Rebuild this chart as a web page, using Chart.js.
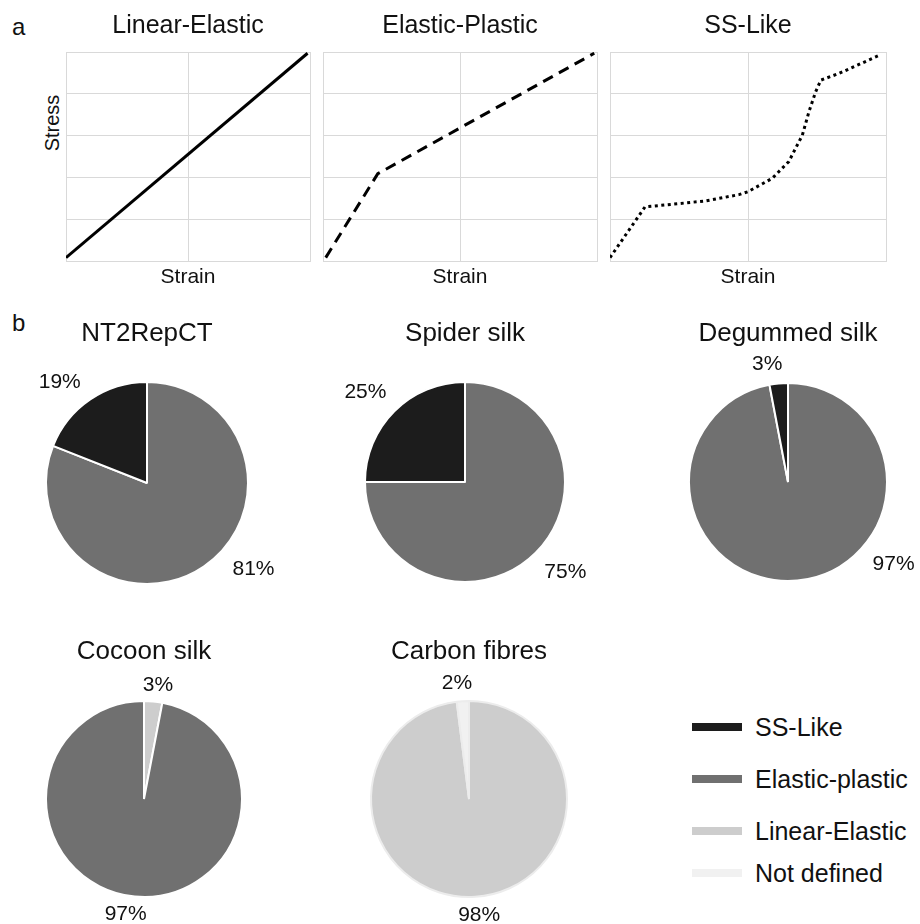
<!DOCTYPE html>
<html>
<head>
<meta charset="utf-8">
<script src="https://cdn.jsdelivr.net/npm/chart.js@4"></script>
<style>
  body { margin: 0; width: 920px; height: 924px; overflow: hidden; background: #fff; position: relative;
         font-family: "Liberation Sans", Arial, sans-serif; color: #111; }
  .box { position: absolute; }
  .tag { position: absolute; font-size: 24px; line-height: 24px; }
  .ylab { position: absolute; left: 12px; top: 111px; width: 80px; height: 24px; line-height: 24px;
          font-size: 20px; text-align: center; transform: rotate(-90deg); }
  .key { position: absolute; left: 692px; width: 50px; height: 8px; }
  .keytext { position: absolute; left: 755px; font-size: 25px; line-height: 30px; white-space: nowrap; }
</style>
</head>
<body>
<div class="tag" style="left:12px;top:15px">a</div>
<div class="tag" style="left:12px;top:311px">b</div>
<div class="ylab">Stress</div>
<div class="box" style="left:0px;top:0px;width:320px;height:292px"><canvas id="curve-0"></canvas></div>
<div class="box" style="left:313px;top:0px;width:294px;height:292px"><canvas id="curve-1"></canvas></div>
<div class="box" style="left:600px;top:0px;width:296px;height:292px"><canvas id="curve-2"></canvas></div>
<script>
  // Stress-strain curves (normalised axes: strain 0-10, stress 0-5)
  const curveTitles = ['Linear-Elastic', 'Elastic-Plastic', 'SS-Like'];
  const linearStrain = [0, 9.9];
  const linearStress = [0.1, 4.97];
  const plasticStrain = [0.1, 2.0, 9.9];
  const plasticStress = [0.1, 2.1, 4.97];
  const ssStrain = [0, 1.27, 2.24, 3.45, 4.67, 5.0, 5.88, 6.48, 6.97, 7.21, 7.45, 7.64, 8.3, 9.82];
  const ssStress = [0.1, 1.31, 1.37, 1.45, 1.6, 1.67, 1.99, 2.39, 3.02, 3.58, 4.05, 4.33, 4.49, 4.94];

  // Share of each behaviour per material (%)
  const materials = ['NT2RepCT', 'Spider silk', 'Degummed silk', 'Cocoon silk', 'Carbon fibres'];
  const categories = ['SS-Like', 'Elastic-plastic', 'Linear-Elastic', 'Not defined'];
  const ssLike = [19, 25, 3, 0, 0];
  const elasticPlastic = [81, 75, 97, 97, 0];
  const linearElastic = [0, 0, 0, 3, 98];
  const notDefined = [0, 0, 0, 0, 2];

  Chart.defaults.font.family = '"Liberation Sans", Arial, sans-serif';
  Chart.defaults.color = '#111';

  const categoryColors = ['#1c1c1c', '#707070', '#cdcdcd', '#f1f1f1'];
  const gridColor = '#d9d9d9';

  // Line charts
  function curveChart(i, xs, ys, dash, padLeft) {
    const points = xs.map((x, k) => ({ x: x, y: ys[k] }));
    return new Chart(document.getElementById('curve-' + i), {
      type: 'line',
      data: {
        datasets: [{
          data: points,
          borderColor: '#000',
          borderWidth: 3,
          borderDash: dash,
          pointRadius: 0,
          tension: 0,
          fill: false
        }]
      },
      options: {
        responsive: true,
        maintainAspectRatio: false,
        animation: false,
        events: [],
        layout: { padding: { left: padLeft, right: 10, top: 0, bottom: 0 } },
        plugins: {
          legend: { display: false },
          tooltip: { enabled: false },
          title: {
            display: true,
            text: curveTitles[i],
            color: '#111',
            font: { size: 25, weight: 'normal' },
            padding: { top: 11, bottom: 11 }
          }
        },
        scales: {
          x: {
            type: 'linear',
            min: 0,
            max: 10,
            ticks: { display: false, stepSize: 5 },
            grid: { color: gridColor, drawTicks: false },
            border: { color: gridColor },
            title: { display: true, text: 'Strain', color: '#111', font: { size: 21 }, padding: { top: 3, bottom: 2 } }
          },
          y: {
            min: 0,
            max: 5,
            ticks: { display: false, stepSize: 1 },
            grid: { color: gridColor, drawTicks: false },
            border: { color: gridColor }
          }
        }
      }
    });
  }

  curveChart(0, linearStrain, linearStress, [], 66);
  curveChart(1, plasticStrain, plasticStress, [11, 7], 10);
  curveChart(2, ssStrain, ssStress, [3, 3.5], 10);

  // Percent labels outside the pie
  const pctLabels = {
    id: 'pctLabels',
    afterDraw(chart, args, opts) {
      const ctx = chart.ctx;
      const arc = chart.getDatasetMeta(0).data[0];
      ctx.save();
      ctx.font = '21px "Liberation Sans", Arial, sans-serif';
      ctx.fillStyle = '#111';
      ctx.textAlign = 'center';
      ctx.textBaseline = 'middle';
      chart.data.datasets[0].data.forEach((v, k) => {
        const a = opts.angles[k] * Math.PI / 180;
        const d = opts.dists[k];
        ctx.fillText(v + '%', arc.x + d * Math.sin(a), arc.y - d * Math.cos(a));
      });
      ctx.restore();
    }
  };

  // Pie layout: centre x, centre y, radius, title y
  const pieGeom = [
    [147, 483, 101, 334],
    [465, 482, 100, 334],
    [788, 482, 99, 334],
    [144, 799, 98, 652],
    [469, 799, 98, 652]
  ];
  // slices clockwise from 12 o'clock (category index)
  const sliceOrder = [[1, 0], [1, 0], [1, 0], [2, 1], [2, 3]];
  const labelAngle = [[129, -41], [132, -48], [128, -10], [7, 189], [175, -6]];
  const labelDist = [[137, 133], [135, 134], [134, 120], [115, 117], [117, 116]];
  const pieBorder = ['#fff', '#fff', '#fff', '#fff', '#ececec'];

  const shares = [ssLike, elasticPlastic, linearElastic, notDefined];

  materials.forEach((name, p) => {
    const [cx, cy, r, ty] = pieGeom[p];
    const top = ty - 40;
    const box = document.createElement('div');
    box.className = 'box';
    box.style.left = (cx - 140) + 'px';
    box.style.top = top + 'px';
    box.style.width = '280px';
    box.style.height = (cy + r + 41 - top) + 'px';
    const cv = document.createElement('canvas');
    box.appendChild(cv);
    document.body.appendChild(box);

    const order = sliceOrder[p];
    new Chart(cv, {
      type: 'pie',
      data: {
        labels: order.map(k => categories[k]),
        datasets: [{
          data: order.map(k => shares[k][p]),
          backgroundColor: order.map(k => categoryColors[k]),
          borderColor: pieBorder[p],
          borderWidth: 2
        }]
      },
      options: {
        responsive: true,
        maintainAspectRatio: false,
        animation: false,
        events: [],
        layout: { padding: { left: 139 - r, right: 139 - r, top: 0, bottom: 40 } },
        plugins: {
          legend: { display: false },
          tooltip: { enabled: false },
          title: {
            display: true,
            text: name,
            color: '#111',
            font: { size: 26, weight: 'normal' },
            padding: { top: 24.4, bottom: cy - r - 1 - ty - 15.6 }
          },
          pctLabels: { angles: labelAngle[p], dists: labelDist[p] }
        }
      },
      plugins: [pctLabels]
    });
  });

  // Shared legend
  const legendY = [727, 779, 831, 873];
  categories.forEach((c, k) => {
    const key = document.createElement('div');
    key.className = 'key';
    key.style.top = (legendY[k] - 4) + 'px';
    key.style.background = categoryColors[k];
    document.body.appendChild(key);
    const txt = document.createElement('div');
    txt.className = 'keytext';
    txt.style.top = (legendY[k] - 15) + 'px';
    txt.textContent = c;
    document.body.appendChild(txt);
  });
</script>
</body>
</html>
